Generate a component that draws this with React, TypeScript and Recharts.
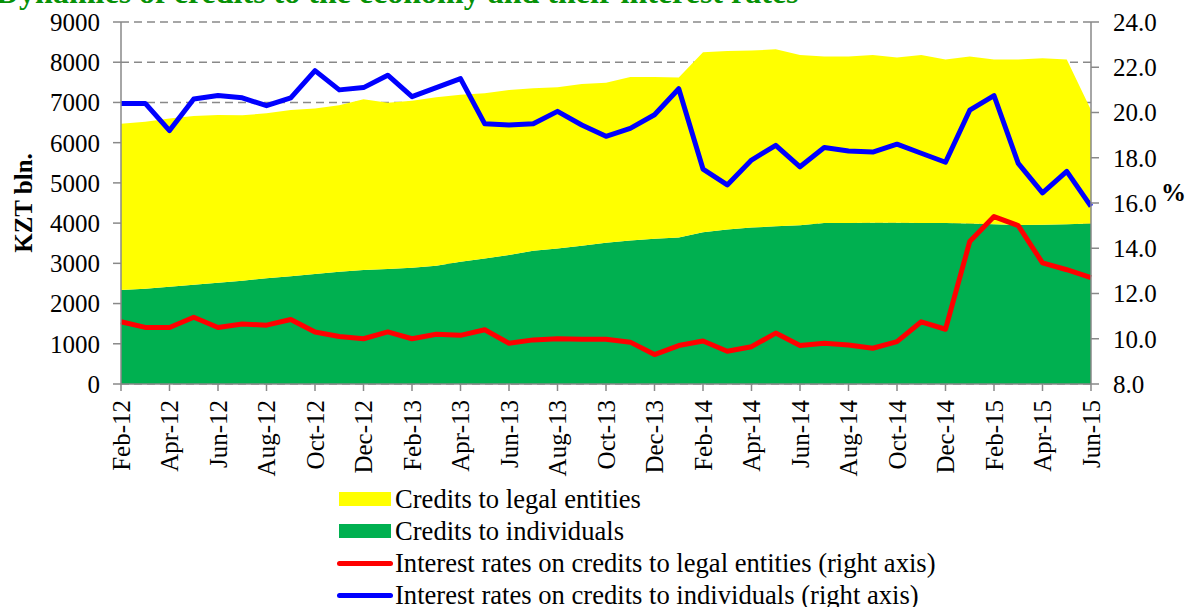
import { ComposedChart, Area, Line, XAxis, YAxis, CartesianGrid } from 'recharts';

const months = [
  'Feb-12', 'Mar-12', 'Apr-12', 'May-12', 'Jun-12', 'Jul-12', 'Aug-12', 'Sep-12', 'Oct-12', 'Nov-12', 'Dec-12',
  'Jan-13', 'Feb-13', 'Mar-13', 'Apr-13', 'May-13', 'Jun-13', 'Jul-13', 'Aug-13', 'Sep-13', 'Oct-13', 'Nov-13', 'Dec-13',
  'Jan-14', 'Feb-14', 'Mar-14', 'Apr-14', 'May-14', 'Jun-14', 'Jul-14', 'Aug-14', 'Sep-14', 'Oct-14', 'Nov-14', 'Dec-14',
  'Jan-15', 'Feb-15', 'Mar-15', 'Apr-15', 'May-15', 'Jun-15',
];

// KZT bln.
const creditsIndividuals = [
  2340, 2370, 2420, 2470, 2520, 2570, 2630, 2680, 2735, 2790, 2835,
  2860, 2890, 2940, 3040, 3120, 3210, 3310, 3370, 3440, 3510, 3570, 3610,
  3640, 3770, 3840, 3890, 3920, 3945, 4000, 4000, 4010, 4010, 4000, 4000,
  3990, 3970, 3950, 3960, 3970, 3990,
];

const creditsLegal = [
  4130, 4150, 4180, 4190, 4170, 4110, 4100, 4130, 4115, 4140, 4245,
  4130, 4150, 4190, 4150, 4110, 4100, 4040, 4010, 4020, 3980, 4060, 4020,
  3980, 4480, 4440, 4400, 4400, 4235, 4140, 4140, 4170, 4110, 4180, 4070,
  4150, 4100, 4120, 4140, 4100, 2820,
];

// %
const rateLegal = [
  10.75, 10.5, 10.5, 10.95, 10.5, 10.65, 10.6, 10.85, 10.3, 10.1, 10.0,
  10.3, 10.0, 10.2, 10.15, 10.4, 9.8, 9.95, 10.0, 9.98, 9.98, 9.85, 9.3,
  9.7, 9.9, 9.45, 9.65, 10.25, 9.7, 9.8, 9.72, 9.58, 9.87, 10.75, 10.42,
  14.3, 15.4, 15.0, 13.35, 13.05, 12.7,
];

const rateIndividuals = [
  20.4, 20.4, 19.2, 20.6, 20.75, 20.65, 20.3, 20.65, 21.85, 21.0, 21.1,
  21.65, 20.7, 21.1, 21.5, 19.5, 19.45, 19.5, 20.05, 19.45, 18.95, 19.3, 19.9,
  21.05, 17.5, 16.8, 17.9, 18.55, 17.6, 18.45, 18.3, 18.25, 18.6, 18.2, 17.8,
  20.1, 20.75, 17.75, 16.45, 17.4, 15.85,
];

const leftTicks = [0, 1000, 2000, 3000, 4000, 5000, 6000, 7000, 8000, 9000];
const rightTicks = [8, 10, 12, 14, 16, 18, 20, 22, 24];

const data = months.map((m, i) => ({
  month: m,
  individuals: creditsIndividuals[i],
  legal: creditsLegal[i],
  rateLegal: rateLegal[i],
  rateIndividuals: rateIndividuals[i],
}));

const FONT = '"Liberation Serif", "Times New Roman", serif';
const AXIS = '#898989';

const MonthTick = ({ x, y, payload }: any) => (
  <text
    transform={`translate(${x},${y}) rotate(-90)`}
    textAnchor="end"
    dominantBaseline="central"
    fontSize={25}
    fontFamily={FONT}
    fill="#000"
  >
    {payload.value}
  </text>
);

const legendItems = [
  { label: 'Credits to legal entities', color: '#FFFF00', kind: 'box' },
  { label: 'Credits to individuals', color: '#00B050', kind: 'box' },
  { label: 'Interest rates on credits to legal entities (right axis)', color: '#FF0000', kind: 'line' },
  { label: 'Interest rates on credits to individuals (right axis)', color: '#0000FF', kind: 'line' },
];

export default function App() {
  return (
    <div style={{ position: 'absolute', left: 0, top: 0, width: 1185, height: 607, overflow: 'hidden', background: '#fff', fontFamily: FONT }}>
      <ComposedChart width={1185} height={607} data={data} margin={{ top: 22, right: 0, left: 0, bottom: 123 }}>
        <CartesianGrid yAxisId="left" vertical={false} stroke={AXIS} strokeWidth={1.5} strokeDasharray="8 5" />
        <XAxis
          dataKey="month"
          interval={1}
          height={100}
          tick={<MonthTick />}
          tickSize={7}
          tickMargin={9}
          stroke={AXIS}
          strokeWidth={1.5}
        />
        <YAxis
          yAxisId="left"
          width={121}
          domain={[0, 9000]}
          ticks={leftTicks}
          interval={0}
          tickSize={8}
          tickMargin={13}
          stroke={AXIS}
          strokeWidth={1.5}
          tick={{ fill: '#000', fontSize: 25, fontFamily: FONT }}
        />
        <YAxis
          yAxisId="right"
          orientation="right"
          width={94}
          domain={[8, 24]}
          ticks={rightTicks}
          interval={0}
          tickSize={8}
          tickMargin={14}
          stroke={AXIS}
          strokeWidth={1.5}
          tickFormatter={(v: number) => v.toFixed(1)}
          tick={{ fill: '#000', fontSize: 25, fontFamily: FONT }}
        />
        <Area yAxisId="left" type="linear" dataKey="individuals" stackId="c" stroke="none" fill="#00B050" fillOpacity={1} isAnimationActive={false} />
        <Area yAxisId="left" type="linear" dataKey="legal" stackId="c" stroke="none" fill="#FFFF00" fillOpacity={1} isAnimationActive={false} />
        <Line yAxisId="right" type="linear" dataKey="rateLegal" stroke="#FF0000" strokeWidth={5} strokeLinejoin="round" dot={false} activeDot={false} isAnimationActive={false} />
        <Line yAxisId="right" type="linear" dataKey="rateIndividuals" stroke="#0000FF" strokeWidth={5} strokeLinejoin="round" dot={false} activeDot={false} isAnimationActive={false} />
      </ComposedChart>

      <svg width={1185} height={607} style={{ position: 'absolute', left: 0, top: 0, pointerEvents: 'none' }}>
        <text x={-4} y={3} fontSize={32} fontWeight="bold" fontFamily={FONT} fill="#079107">
          Dynamics of credits to the economy and their interest rates
        </text>
        <text
          x={23}
          y={203}
          transform="rotate(-90, 23, 203)"
          textAnchor="middle"
          dominantBaseline="central"
          fontSize={25}
          fontWeight="bold"
          fontFamily={FONT}
        >
          KZT bln.
        </text>
        <text x={1161} y={201} fontSize={25} fontWeight="bold" fontFamily={FONT}>%</text>
      </svg>

      <div style={{ position: 'absolute', left: 337, top: 483 }}>
        {legendItems.map((it) => (
          <div key={it.label} style={{ display: 'flex', alignItems: 'center', height: 32 }}>
            <div style={{ width: 58, display: 'flex', alignItems: 'center' }}>
              {it.kind === 'box' ? (
                <div style={{ marginLeft: 2, width: 52, height: 14, background: it.color }} />
              ) : (
                <div style={{ width: 56, height: 5, borderRadius: 3, background: it.color }} />
              )}
            </div>
            <span style={{ fontSize: 26.6, lineHeight: '32px', whiteSpace: 'nowrap', color: '#000' }}>{it.label}</span>
          </div>
        ))}
      </div>
    </div>
  );
}
